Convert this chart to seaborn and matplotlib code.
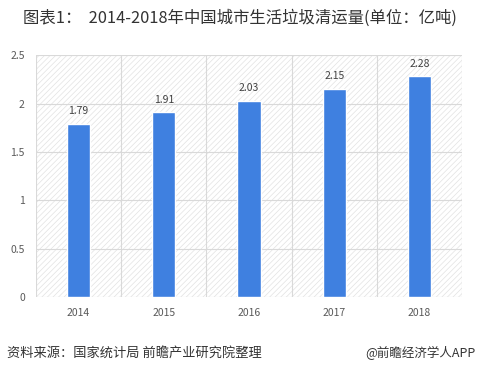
import matplotlib
matplotlib.use('Agg')
import matplotlib.pyplot as plt
import seaborn as sns
import pandas as pd
from matplotlib.patches import Rectangle

years = ['2014', '2015', '2016', '2017', '2018']
volume = [1.79, 1.91, 2.03, 2.15, 2.28]
yticks = [0, 0.5, 1, 1.5, 2, 2.5]
ytick_labels = ['0', '0.5', '1', '1.5', '2', '2.5']

sns.set_style('white')
plt.rcParams['font.family'] = ['Noto Sans CJK SC', 'DejaVu Sans']
plt.rcParams['hatch.color'] = '#e2e2e2'
plt.rcParams['hatch.linewidth'] = 0.5

df = pd.DataFrame({'year': years, 'volume': volume})

fig = plt.figure(figsize=(4.8, 3.78), dpi=100)
ax = fig.add_axes([0.075, 0.214, 0.8875, 0.64])

# hatched plot background
ax.add_patch(Rectangle((0, 0), 1, 1, transform=ax.transAxes, facecolor='white',
                       edgecolor='#e2e2e2', hatch='//////', lw=0, zorder=0))

sns.barplot(data=df, x='year', y='volume', color='#3f80e0', width=0.27,
            saturation=1, ax=ax, zorder=3)

ax.set_ylim(0, 2.5)
ax.set_xlim(-0.5, 4.5)
ax.set_yticks(yticks)
ax.set_yticklabels(ytick_labels)
ax.grid(False)
for y in yticks:
    ax.axhline(y, color='#d9d9d9', lw=0.8, zorder=1)
for x in [-0.5, 0.5, 1.5, 2.5, 3.5, 4.5]:
    ax.axvline(x, color='#d9d9d9', lw=0.8, zorder=1)

for i, v in enumerate(volume):
    ax.text(i, v + 0.08, f'{v:.2f}', ha='center', va='bottom', fontsize=7.5, color='#404040')

ax.tick_params(axis='both', length=0, labelsize=7.5, colors='#595959', pad=8)
ax.set_xlabel('')
ax.set_ylabel('')
for s in ax.spines.values():
    s.set_visible(False)

fig.text(0.5, 0.952, '图表1：  2014-2018年中国城市生活垃圾清运量(单位：亿吨)',
         ha='center', va='center', fontsize=11.8, color='#333333')
fig.text(0.015, 0.065, '资料来源：国家统计局 前瞻产业研究院整理', ha='left', va='center',
         fontsize=9.5, style='italic', color='#333333')
fig.text(0.99, 0.065, '@前瞻经济学人APP', ha='right', va='center',
         fontsize=9, color='#333333')

fig.savefig('out.png', dpi=100)
